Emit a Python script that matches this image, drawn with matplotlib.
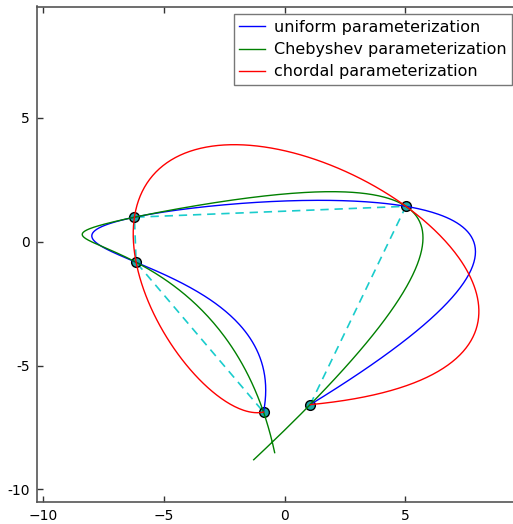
import numpy as np
import matplotlib
matplotlib.use('Agg')
import matplotlib.pyplot as plt
from matplotlib.ticker import FuncFormatter

# interpolation nodes (in curve order)
xs = np.array([1.06, 5.02, -6.21, -6.14, -0.87])
ys = np.array([-6.58, 1.43, 0.99, -0.83, -6.88])

labels = ['uniform parameterization', 'Chebyshev parameterization',
          'chordal parameterization']
colors = ['b', 'g', 'r']

n = len(xs)


def interp_curve(t_nodes, t_lo, t_hi):
    # degree n-1 polynomial through the nodes, one per coordinate
    px = np.polyfit(t_nodes, xs, n - 1)
    py = np.polyfit(t_nodes, ys, n - 1)
    tt = np.linspace(t_lo, t_hi, 400)
    return np.polyval(px, tt), np.polyval(py, tt)


t_uni = np.arange(n, dtype=float)
t_cheb = np.cos((2 * np.arange(n) + 1) * np.pi / (2 * n))
chords = np.hypot(np.diff(xs), np.diff(ys))
t_chord = np.concatenate([[0.0], np.cumsum(chords)])

curves = [interp_curve(t_uni, t_uni[0], t_uni[-1]),
          interp_curve(t_cheb, -1.0, 1.0),
          interp_curve(t_chord, t_chord[0], t_chord[-1])]

fig = plt.figure(figsize=(5.13, 5.24), dpi=100)
ax = fig.add_axes([37 / 513, 22.3 / 524, 483 / 513, 495.2 / 524])

ax.plot(xs, ys, '--', c=(0.1, 0.8, 0.8), lw=1.2, dashes=(5, 3.5), zorder=1)
ax.plot(xs, ys, 'o', ms=7, mfc=(0.1, 0.65, 0.65), mec='k', mew=1.0,
        zorder=2)
for (cx, cy), c, label in zip(curves, colors, labels):
    ax.plot(cx, cy, c=c, lw=1.0, label=label, zorder=3)

ax.set_xlim(-10.24, 9.74)
ax.set_ylim(-10.5, 9.5)
ax.set_xticks([-10, -5, 0, 5])
ax.set_yticks([-10, -5, 0, 5])
ax.xaxis.set_major_formatter(FuncFormatter(
    lambda v, p: ('\u2212%d' % -v) if v < 0 else '%d' % v))
ax.yaxis.set_major_formatter(FuncFormatter(lambda v, p: '%d' % v))

for s in ax.spines.values():
    s.set_color('#555555')
    s.set_linewidth(1.2)
ax.tick_params(direction='in', length=4, width=1, color='#333333',
               top=True, right=True, labelsize=10, pad=5)

leg = ax.legend(loc='upper right', fontsize=11.5, handlelength=1.6,
                handletextpad=0.55, borderpad=0.35,
                borderaxespad=0.5, fancybox=False, labelspacing=0.45)
leg.get_frame().set_edgecolor('#555555')
leg.get_frame().set_linewidth(1.0)

plt.savefig('out.png', dpi=100)
